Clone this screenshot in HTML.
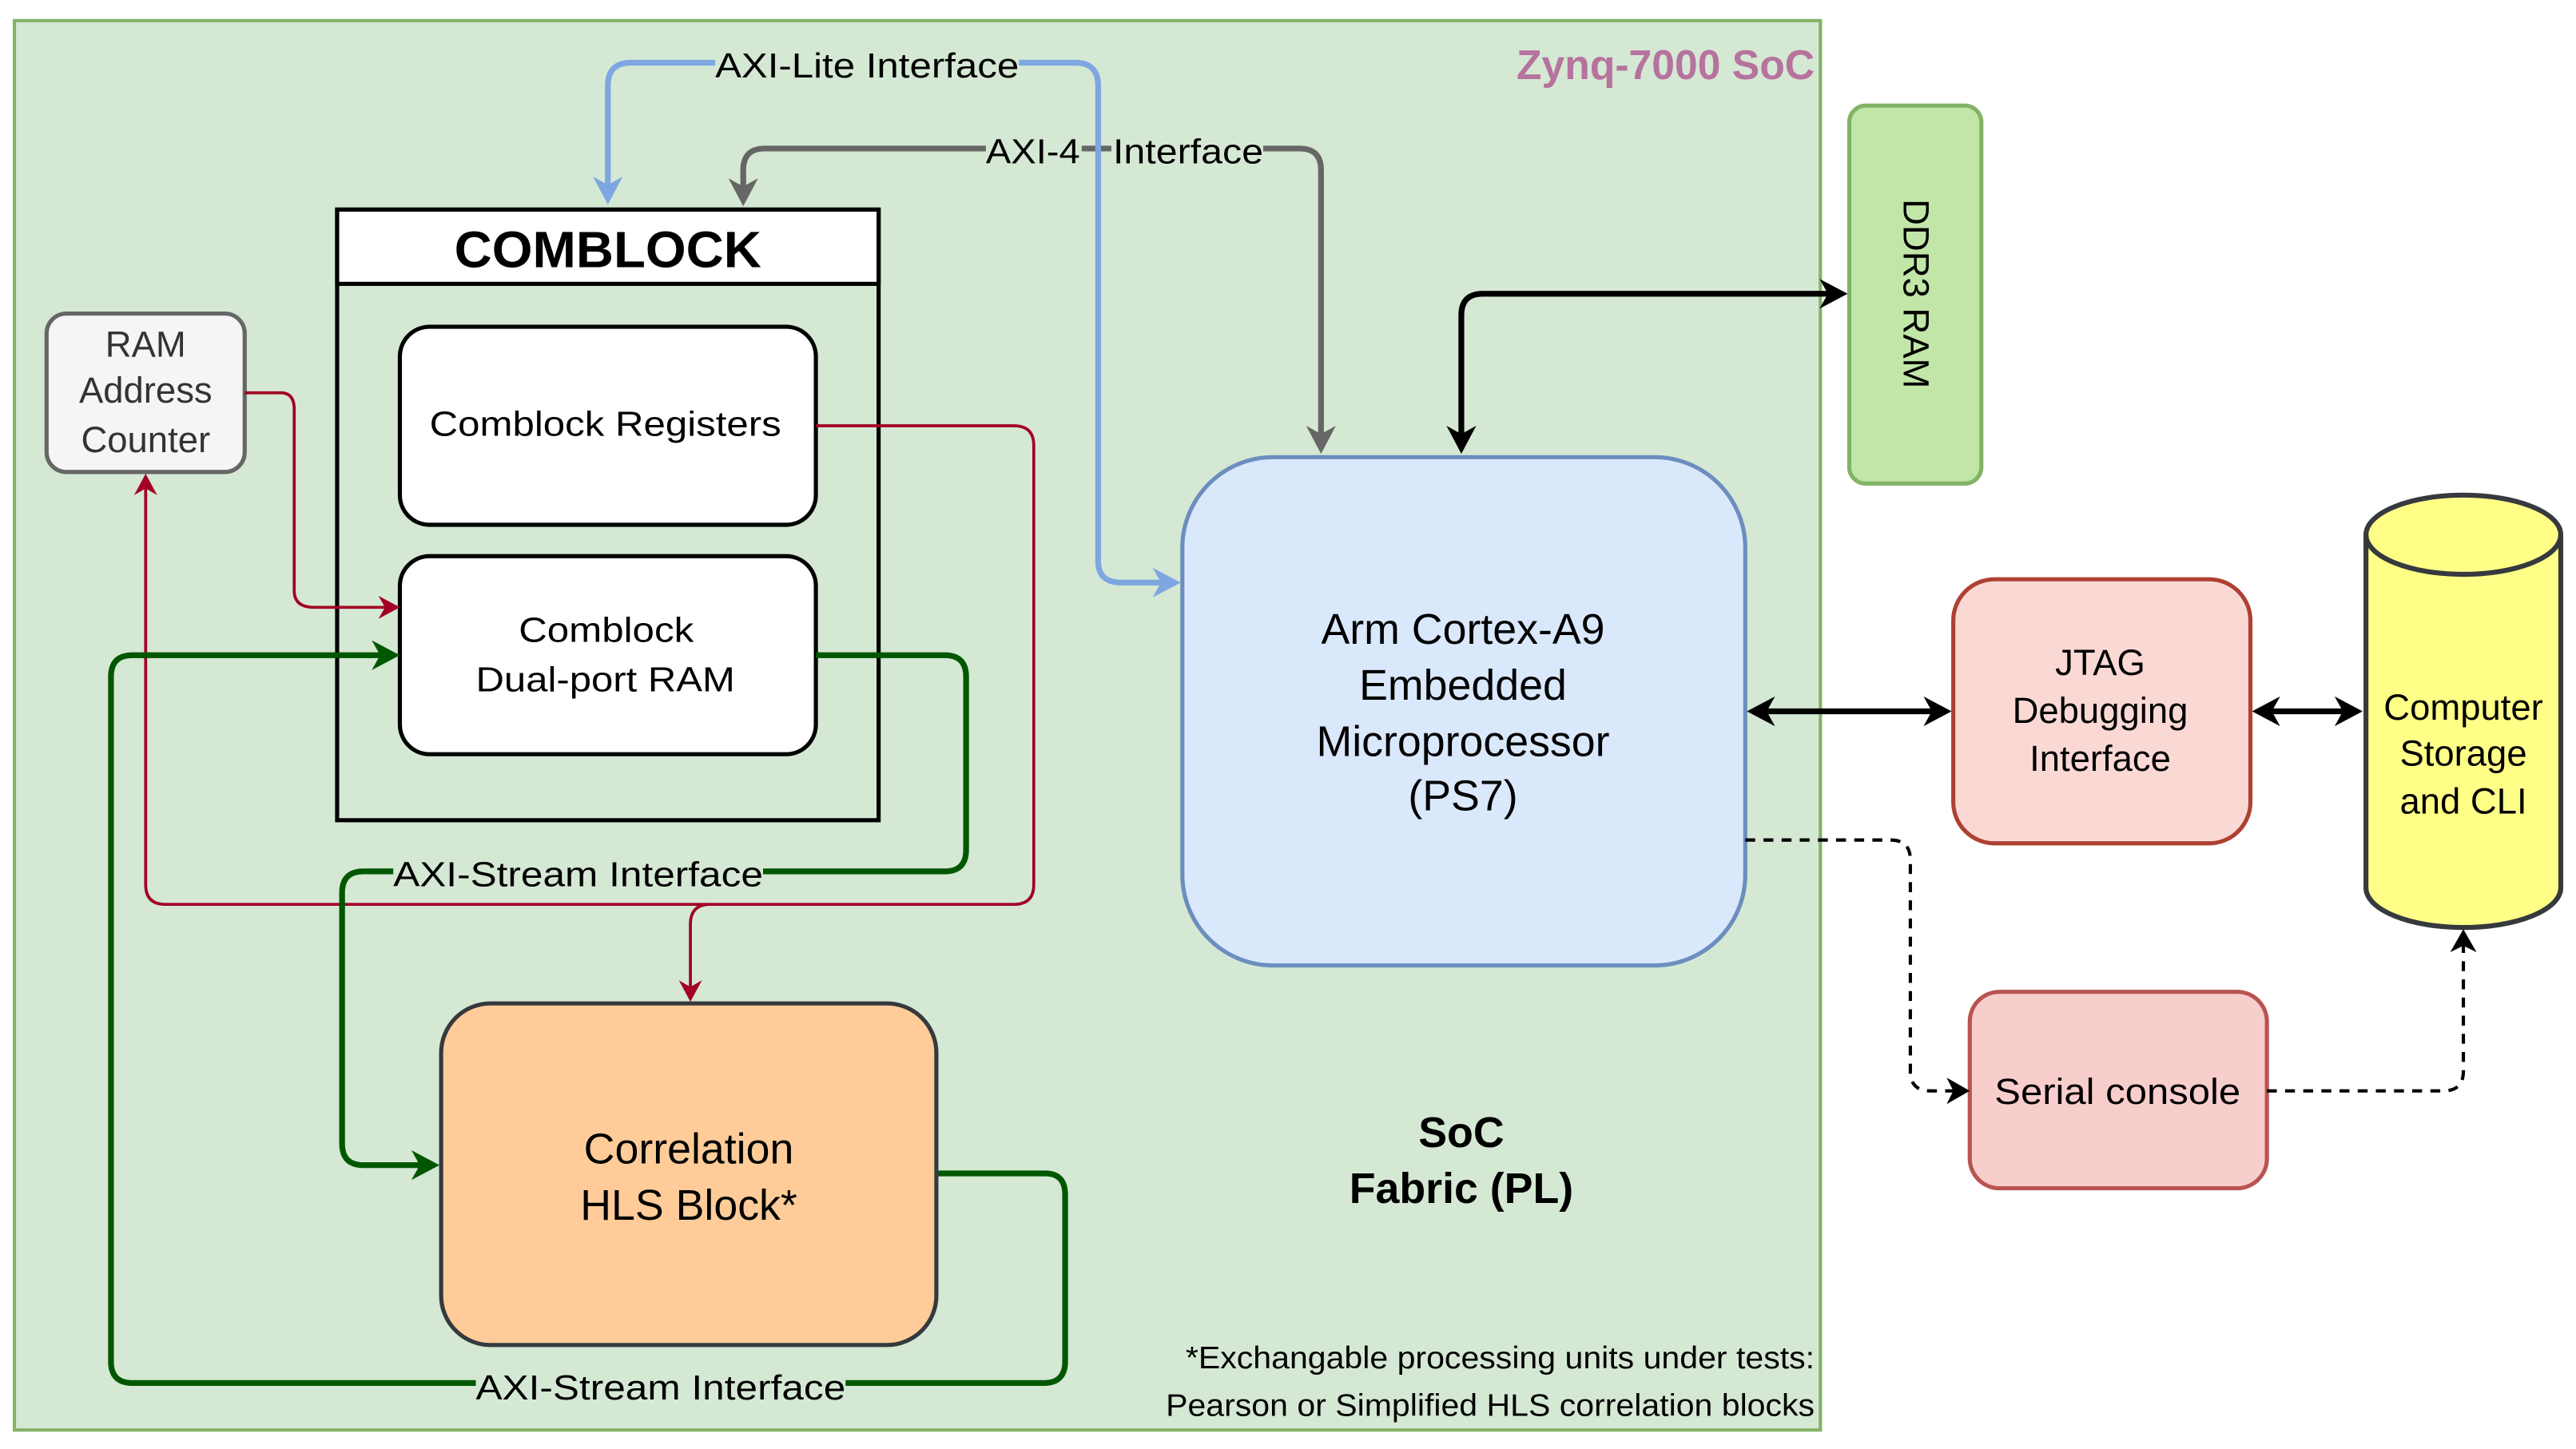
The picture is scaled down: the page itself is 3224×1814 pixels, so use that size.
<!DOCTYPE html>
<html><head><meta charset="utf-8"><style>html,body{margin:0;padding:0;background:#fff}svg{display:block}text{font-family:"Liberation Sans",Arial,sans-serif}</style></head>
<body>
<svg width="3224" height="1814" viewBox="0 0 1560 878" xmlns="http://www.w3.org/2000/svg" xmlns:xlink="http://www.w3.org/1999/xlink">
<defs>
<path id="hB" d="M0,0 L-17,-9 L-12,0 L-17,9 Z"/>
<path id="hM" d="M0,0 L-14,-8 L-10,0 L-14,8 Z"/>
<path id="hS" d="M0,0 L-13,-7 L-9,0 L-13,7 Z"/>
</defs>
<rect x="8.5" y="12.5" width="1094" height="854" fill="#d5e8d4" stroke="#82b366" stroke-width="2"/>
<text x="1099" y="48" text-anchor="end" font-size="25" font-weight="bold" fill="#b5739d">Zynq-7000 SoC</text>

<!-- AXI-4 -->
<path d="M450,115 V103 Q450,90 463,90 H787 Q800,90 800,103 V265" fill="none" stroke="#666" stroke-width="3.5"/>
<use href="#hB" xlink:href="#hB" fill="#666" transform="translate(450,125) rotate(90)"/>
<use href="#hB" xlink:href="#hB" fill="#666" transform="translate(800,275) rotate(90)"/>
<rect x="597" y="79" width="58" height="24" fill="#d5e8d4"/>
<rect x="673" y="79" width="92" height="24" fill="#d5e8d4"/>
<text x="597" y="99" font-size="21" textLength="57" lengthAdjust="spacingAndGlyphs">AXI-4</text>
<text x="674" y="99" font-size="21" textLength="91" lengthAdjust="spacingAndGlyphs">Interface</text>
<!-- AXI-Lite -->
<path d="M368,114 V52 Q368,38 382,38 H651 Q665,38 665,52 V340 Q665,353 679,353 H705" fill="none" stroke="#7ea6e0" stroke-width="3.5"/>
<use href="#hB" xlink:href="#hB" fill="#7ea6e0" transform="translate(368,124) rotate(90)"/>
<use href="#hB" xlink:href="#hB" fill="#7ea6e0" transform="translate(715,353)"/>
<rect x="433" y="28" width="184" height="24" fill="#d5e8d4"/>
<text x="433" y="47" font-size="21" textLength="184" lengthAdjust="spacingAndGlyphs">AXI-Lite Interface</text>

<!-- COMBLOCK -->
<rect x="204" y="127" width="328" height="370" fill="none" stroke="#000" stroke-width="2.5"/>
<rect x="204" y="127" width="328" height="45" fill="#fff" stroke="#000" stroke-width="2.5"/>
<text x="275" y="162" font-size="31" font-weight="bold" textLength="186" lengthAdjust="spacingAndGlyphs">COMBLOCK</text>
<rect x="242" y="198" width="252" height="120" rx="18" fill="#fff" stroke="#000" stroke-width="2.5"/>
<text x="260" y="264" font-size="21" textLength="213" lengthAdjust="spacingAndGlyphs">Comblock Registers</text>
<rect x="242" y="337" width="252" height="120" rx="18" fill="#fff" stroke="#000" stroke-width="2.5"/>
<text x="314" y="389" font-size="21" textLength="106" lengthAdjust="spacingAndGlyphs">Comblock</text>
<text x="288" y="419" font-size="21" textLength="157" lengthAdjust="spacingAndGlyphs">Dual-port RAM</text>

<!-- RAM Address Counter -->
<rect x="28" y="190" width="120" height="96" rx="12" fill="#f5f5f5" stroke="#666" stroke-width="2.5"/>
<text x="88" y="216" text-anchor="middle" font-size="22" fill="#333">RAM</text>
<text x="88" y="244" text-anchor="middle" font-size="22" fill="#333">Address</text>
<text x="88" y="274" text-anchor="middle" font-size="22" fill="#333">Counter</text>

<!-- crimson -->
<path d="M148,238 H170 Q178,238 178,248 V358 Q178,368 190,368 H234" fill="none" stroke="#a20025" stroke-width="1.8"/>
<use href="#hS" xlink:href="#hS" fill="#a20025" transform="translate(242,368)"/>
<path d="M494,258 H614 Q626,258 626,270 V536 Q626,548 614,548 H100 Q88,548 88,536 V295" fill="none" stroke="#a20025" stroke-width="1.8"/>
<use href="#hS" xlink:href="#hS" fill="#a20025" transform="translate(88,287) rotate(-90)"/>
<path d="M430,548 Q418,548 418,560 V600" fill="none" stroke="#a20025" stroke-width="1.8"/>
<use href="#hS" xlink:href="#hS" fill="#a20025" transform="translate(418,607) rotate(90)"/>

<!-- green streams -->
<path d="M494,397 H572 Q585,397 585,410 V515 Q585,528 572,528 H220 Q207,528 207,541 V693 Q207,706 220,706 H256" fill="none" stroke="#005700" stroke-width="3.5"/>
<use href="#hB" xlink:href="#hB" fill="#005700" transform="translate(266,706)"/>
<rect x="238" y="517" width="224" height="24" fill="#d5e8d4"/>
<text x="238" y="537" font-size="21" textLength="224" lengthAdjust="spacingAndGlyphs">AXI-Stream Interface</text>
<path d="M567,711 H633 Q645,711 645,724 V825 Q645,838 632,838 H80 Q67,838 67,825 V410 Q67,397 80,397 H232" fill="none" stroke="#005700" stroke-width="3.5"/>
<use href="#hB" xlink:href="#hB" fill="#005700" transform="translate(242,397)"/>
<rect x="288" y="828" width="224" height="24" fill="#d5e8d4"/>
<text x="288" y="848" font-size="21" textLength="224" lengthAdjust="spacingAndGlyphs">AXI-Stream Interface</text>

<!-- Correlation -->
<rect x="267" y="608" width="300" height="207" rx="30" fill="#ffcc99" stroke="#36393d" stroke-width="2.5"/>
<text x="417" y="705" text-anchor="middle" font-size="26">Correlation</text>
<text x="417" y="739" text-anchor="middle" font-size="26">HLS Block*</text>

<!-- Processor -->
<rect x="716" y="277" width="341" height="308" rx="55" fill="#dae8fc" stroke="#6c8ebf" stroke-width="2.5"/>
<text x="886" y="390" text-anchor="middle" font-size="26">Arm Cortex-A9</text>
<text x="886" y="424" text-anchor="middle" font-size="26">Embedded</text>
<text x="886" y="458" text-anchor="middle" font-size="26">Microprocessor</text>
<text x="886" y="491" text-anchor="middle" font-size="26">(PS7)</text>

<text x="885" y="695" text-anchor="middle" font-size="26" font-weight="bold">SoC</text>
<text x="885" y="729" text-anchor="middle" font-size="26" font-weight="bold">Fabric (PL)</text>
<text x="718" y="829" font-size="19" textLength="381" lengthAdjust="spacingAndGlyphs">*Exchangable processing units under tests:</text>
<text x="706" y="858" font-size="19" textLength="393" lengthAdjust="spacingAndGlyphs">Pearson or Simplified HLS correlation blocks</text>

<!-- DDR3 -->
<rect x="1120" y="64" width="80" height="229" rx="10" fill="#c1e6a8" stroke="#82b366" stroke-width="2.5"/>
<text transform="translate(1153,178) rotate(90)" text-anchor="middle" font-size="22">DDR3 RAM</text>
<path d="M885,264 V191 Q885,178 898,178 H1108" fill="none" stroke="#000" stroke-width="3.5"/>
<use href="#hB" xlink:href="#hB" fill="#000" transform="translate(885,275) rotate(90)"/>
<use href="#hB" xlink:href="#hB" fill="#000" transform="translate(1119,178)"/>

<!-- JTAG -->
<rect x="1183" y="351" width="180" height="160" rx="25" fill="#fad9d5" stroke="#ae4132" stroke-width="2.5"/>
<text x="1272" y="409" text-anchor="middle" font-size="22">JTAG</text>
<text x="1272" y="438" text-anchor="middle" font-size="22">Debugging</text>
<text x="1272" y="467" text-anchor="middle" font-size="22">Interface</text>
<path d="M1068,431 H1172" fill="none" stroke="#000" stroke-width="3.5"/>
<use href="#hB" xlink:href="#hB" fill="#000" transform="translate(1058,431) rotate(180)"/>
<use href="#hB" xlink:href="#hB" fill="#000" transform="translate(1182,431)"/>
<path d="M1374,431 H1421" fill="none" stroke="#000" stroke-width="3.5"/>
<use href="#hB" xlink:href="#hB" fill="#000" transform="translate(1364,431) rotate(180)"/>
<use href="#hB" xlink:href="#hB" fill="#000" transform="translate(1431,431)"/>

<!-- Cylinder -->
<path d="M1433,324 A59,24 0 0 1 1551,324 V538 A59,24 0 0 1 1433,538 Z" fill="#ffff88" stroke="#36393d" stroke-width="3"/>
<path d="M1433,324 A59,24 0 0 0 1551,324" fill="none" stroke="#36393d" stroke-width="3"/>
<text x="1492" y="436" text-anchor="middle" font-size="22">Computer</text>
<text x="1492" y="464" text-anchor="middle" font-size="22">Storage</text>
<text x="1492" y="493" text-anchor="middle" font-size="22">and CLI</text>

<!-- Serial -->
<rect x="1193" y="601" width="180" height="119" rx="18" fill="#f8cecc" stroke="#b85450" stroke-width="2.5"/>
<text x="1208" y="669" font-size="22" textLength="149" lengthAdjust="spacingAndGlyphs">Serial console</text>
<path d="M1057,509 H1145 Q1157,509 1157,521 V649 Q1157,661 1169,661 H1184" fill="none" stroke="#000" stroke-width="2" stroke-dasharray="6,5"/>
<use href="#hM" xlink:href="#hM" fill="#000" transform="translate(1193,661)"/>
<path d="M1373,661 H1480 Q1492,661 1492,649 V572" fill="none" stroke="#000" stroke-width="2" stroke-dasharray="6,5"/>
<use href="#hM" xlink:href="#hM" fill="#000" transform="translate(1492,563) rotate(-90)"/>
</svg>
</body></html>
